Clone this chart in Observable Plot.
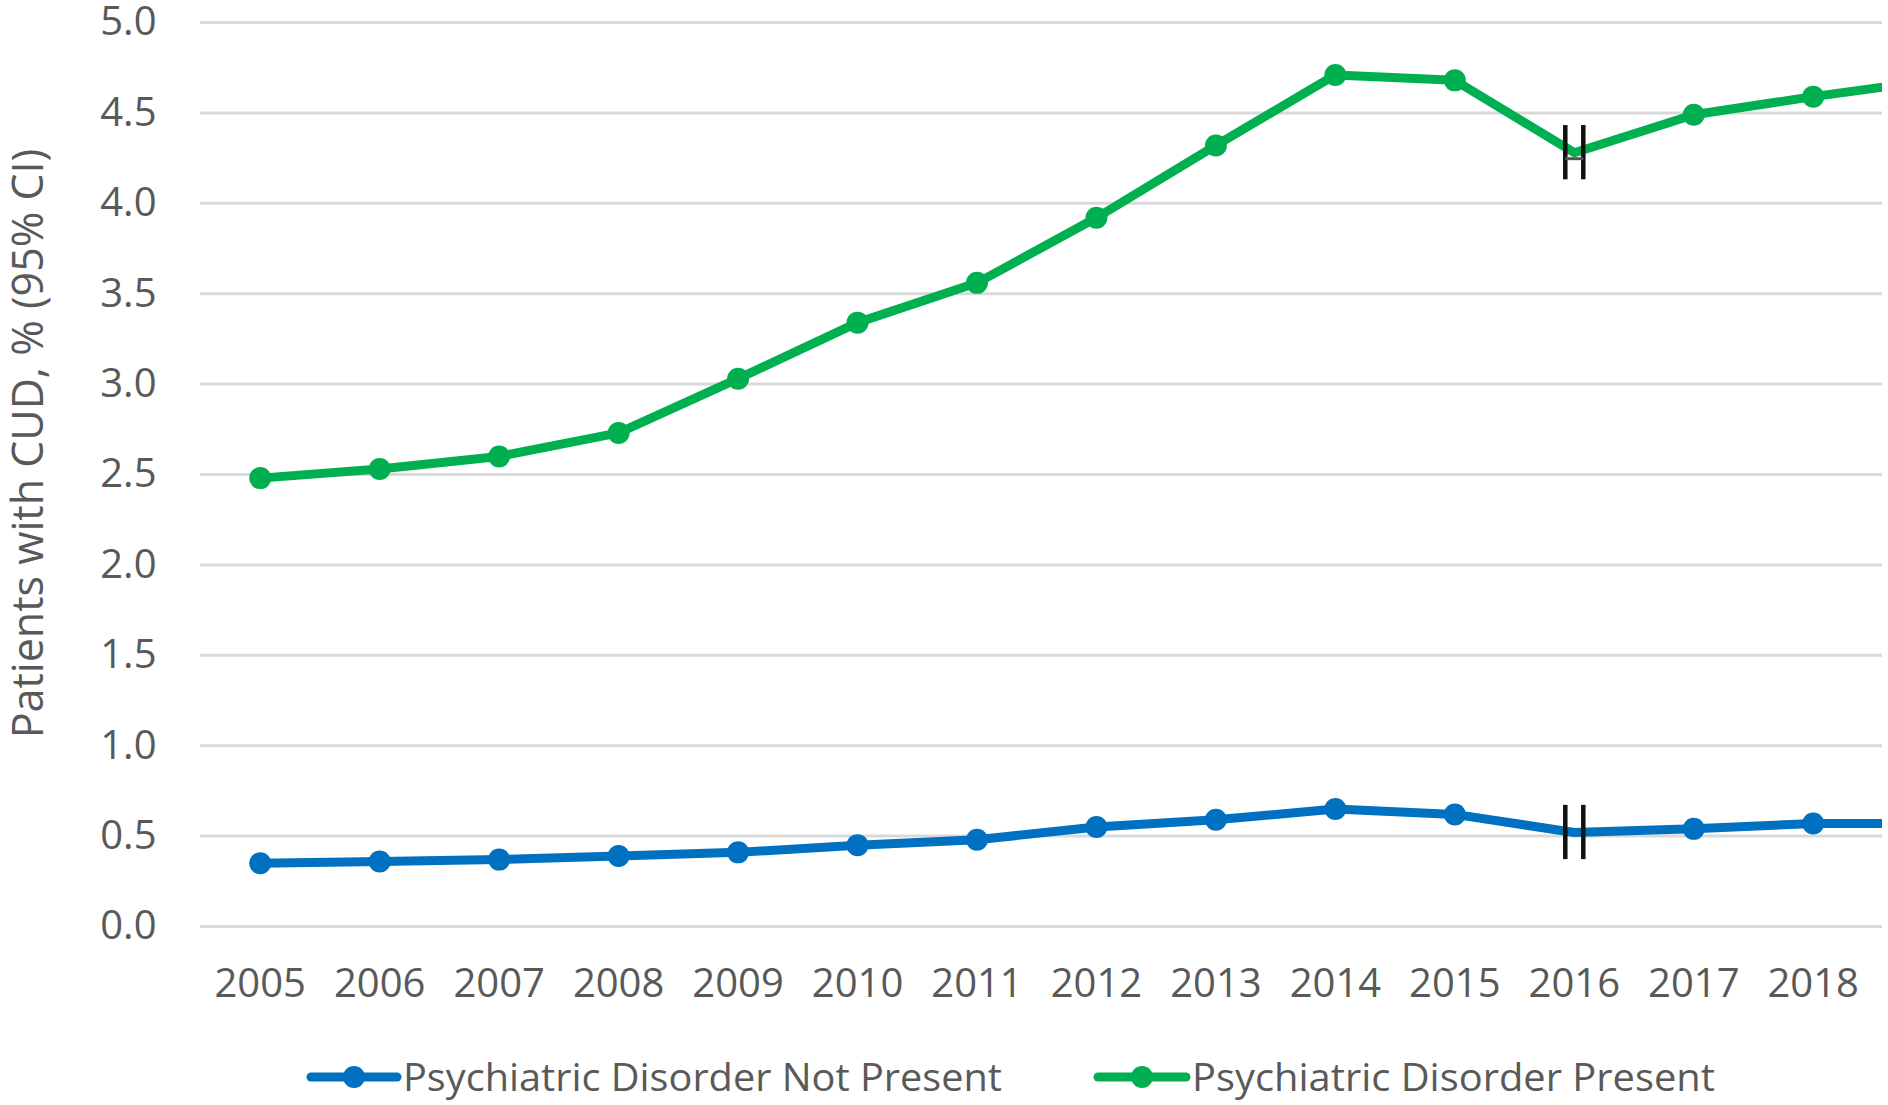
<!DOCTYPE html>
<html>
<head>
<meta charset="utf-8">
<script src="https://cdn.jsdelivr.net/npm/d3@7"></script>
<script src="https://cdn.jsdelivr.net/npm/@observablehq/plot@0.6"></script>
<style>
  html, body { margin: 0; padding: 0; background: #fff; }
  #chart { width: 1888px; }
  #legend { width: 1888px; height: 75px; display: block; }
</style>
</head>
<body>
<div id="chart"></div>
<script>
// ---- Data ----
const years = [2005, 2006, 2007, 2008, 2009, 2010, 2011, 2012, 2013, 2014, 2015, 2016, 2017, 2018, 2019];
const notPresent = [0.35, 0.36, 0.37, 0.39, 0.41, 0.45, 0.48, 0.55, 0.59, 0.65, 0.62, 0.52, 0.54, 0.57, 0.57];
const present = [2.48, 2.53, 2.60, 2.73, 3.03, 3.34, 3.56, 3.92, 4.32, 4.71, 4.68, 4.28, 4.49, 4.59, 4.68];
const seriesNames = ["Psychiatric Disorder Not Present", "Psychiatric Disorder Present"];
const seriesColors = ["#0070C0", "#00B050"];
const yTicks = [0, 0.5, 1.0, 1.5, 2.0, 2.5, 3.0, 3.5, 4.0, 4.5, 5.0];
const xTickYears = [2005, 2006, 2007, 2008, 2009, 2010, 2011, 2012, 2013, 2014, 2015, 2016, 2017, 2018];
const breakYear = 2016;
const yLabel = "Patients with CUD, % (95% CI)";

// ---- Build table ----
const seriesValues = [notPresent, present];
const rows = [];
seriesNames.forEach((name, i) => {
  years.forEach((yr, j) => rows.push({series: name, year: yr, value: seriesValues[i][j]}));
});
const lastShown = xTickYears[xTickYears.length - 1];
const dotRows = rows.filter(d => d.year !== breakYear && d.year <= lastShown);
const breakRows = rows.filter(d => d.year === breakYear);
const crossRows = breakRows.filter(d => d.series === seriesNames[1]);

const crossbar = { draw(ctx) { ctx.moveTo(-9, 0); ctx.lineTo(9, 0); } };

const textColor = "#595959";

const chart = Plot.plot({
  width: 1888,
  height: 1030,
  marginLeft: 200,
  marginRight: 6,
  marginTop: 22,
  marginBottom: 104,
  style: { fontFamily: "'Open Sans', sans-serif", fontSize: "40px", color: textColor, background: "#fff", overflow: "visible" },
  x: { type: "linear", domain: [2004.5, 2018.58] },
  y: { domain: [0, 5] },
  color: { domain: seriesNames, range: seriesColors },
  marks: [
    Plot.ruleY(yTicks, { stroke: "#d9d9d9", strokeWidth: 3 }),
    Plot.axisY(yTicks, { tickSize: 0, tickPadding: 44, tickFormat: d3.format(".1f"), label: null, fill: textColor }),
    Plot.axisX(xTickYears, { tickSize: 0, tickPadding: 42, tickFormat: d => String(d), label: null, fill: textColor }),
    Plot.text([yLabel], { frameAnchor: "left", text: d => d, rotate: -90, textAnchor: "middle", dx: -171, dy: -31, fill: textColor, fontSize: 43 }),
    Plot.line(rows, { x: "year", y: "value", z: "series", stroke: "series", strokeWidth: 9, strokeLinejoin: "round", clip: true }),
    Plot.dot(dotRows, { x: "year", y: "value", fill: "series", r: 11 }),
    Plot.ruleX(breakRows, { x: "year", y1: d => d.value - 0.15, y2: d => d.value + 0.15, dx: -9, stroke: "#111", strokeWidth: 4.5 }),
    Plot.ruleX(breakRows, { x: "year", y1: d => d.value - 0.15, y2: d => d.value + 0.15, dx: 9, stroke: "#111", strokeWidth: 4.5 }),
    Plot.dot(crossRows, { x: "year", y: "value", symbol: crossbar, r: 5, dy: 6, stroke: "#555", strokeWidth: 3, fill: "none" })
  ]
});
document.getElementById("chart").appendChild(chart);

// ---- Legend below the chart ----
const legendItems = [
  { x0: 311, x1: 397, tx: 403, tlen: 599 },
  { x0: 1098, x1: 1186, tx: 1192, tlen: 523 }
];
const ns = "http://www.w3.org/2000/svg";
const leg = document.createElementNS(ns, "svg");
leg.setAttribute("id", "legend");
leg.setAttribute("width", 1888);
leg.setAttribute("height", 75);
seriesNames.forEach((name, i) => {
  const it = legendItems[i];
  const cy = 47;
  const line = document.createElementNS(ns, "line");
  line.setAttribute("x1", it.x0); line.setAttribute("x2", it.x1);
  line.setAttribute("y1", cy); line.setAttribute("y2", cy);
  line.setAttribute("stroke", seriesColors[i]); line.setAttribute("stroke-width", 9);
  line.setAttribute("stroke-linecap", "round");
  leg.appendChild(line);
  const c = document.createElementNS(ns, "circle");
  c.setAttribute("cx", (it.x0 + it.x1) / 2); c.setAttribute("cy", cy); c.setAttribute("r", 11);
  c.setAttribute("fill", seriesColors[i]);
  leg.appendChild(c);
  const t = document.createElementNS(ns, "text");
  t.setAttribute("x", it.tx); t.setAttribute("y", cy);
  t.setAttribute("dy", "0.35em");
  t.setAttribute("fill", textColor);
  t.setAttribute("font-family", "'Open Sans', sans-serif");
  t.setAttribute("font-size", 39);
  t.setAttribute("textLength", it.tlen);
  t.setAttribute("lengthAdjust", "spacingAndGlyphs");
  t.textContent = name;
  leg.appendChild(t);
});
document.body.appendChild(leg);
</script>
</body>
</html>
